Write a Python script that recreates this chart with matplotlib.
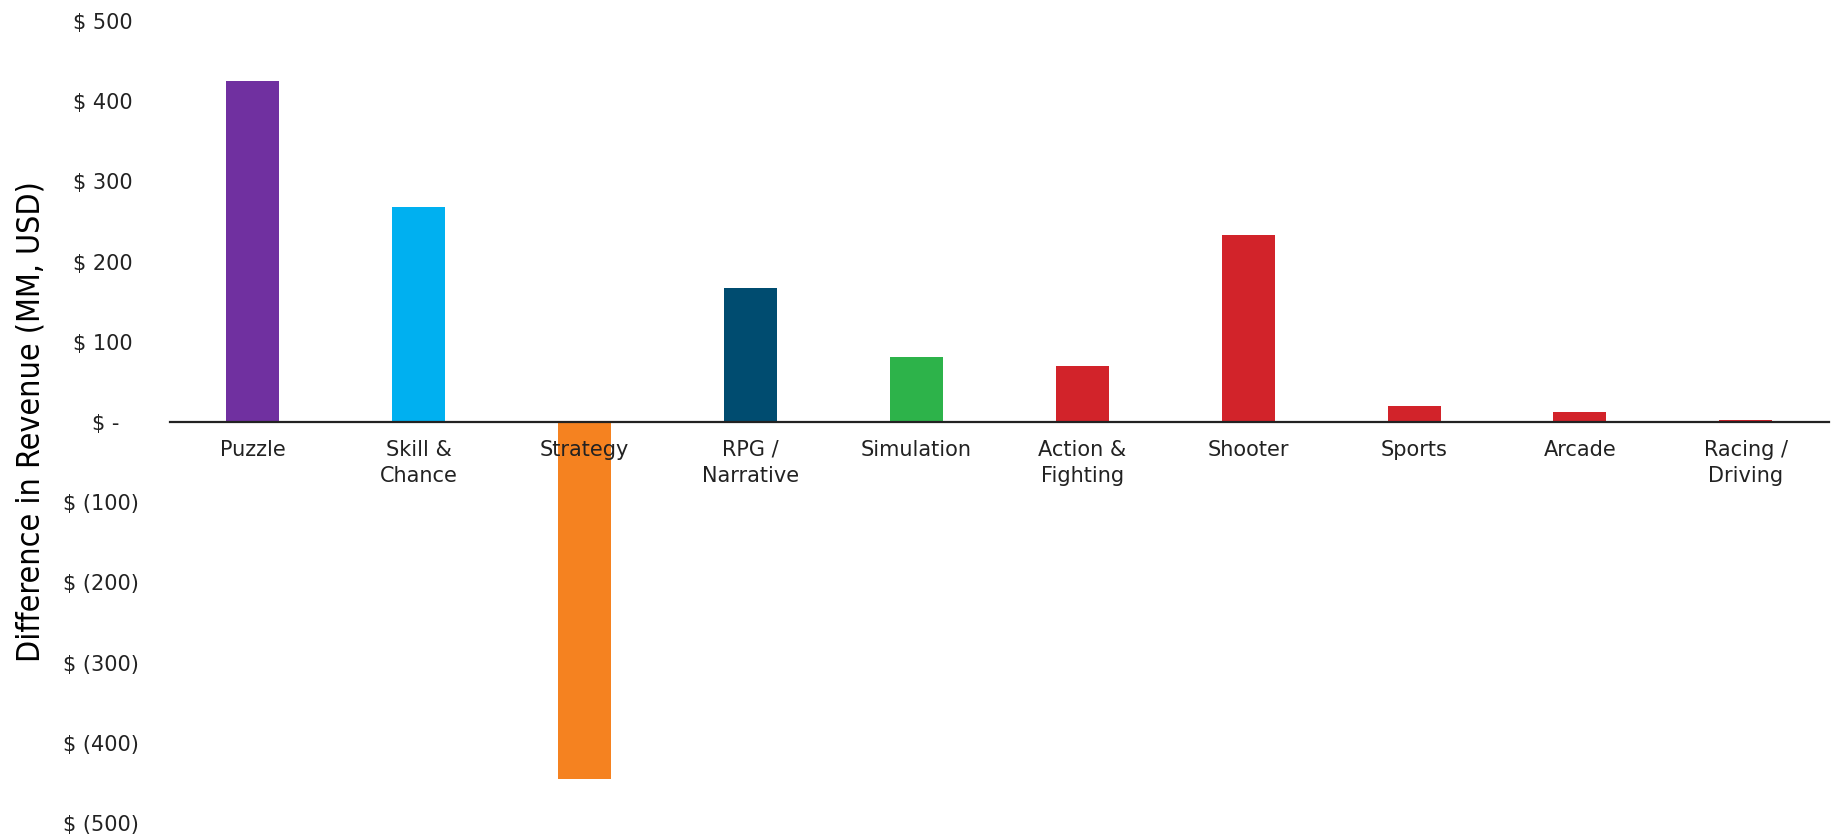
import matplotlib.pyplot as plt
import numpy as np

# datos
categorias = ["Puzzle", "Skill &\nChance", "Strategy", "RPG /\nNarrative", "Simulation",
              "Action &\nFighting", "Shooter", "Sports", "Arcade", "Racing /\nDriving"]
diferencia = [425, 268, -445, 167, 81, 70, 233, 20, 12, 3]
colores = ["#7030A0", "#00B0F0", "#F58220", "#004C70", "#2DB34A",
           "#D2232A", "#D2232A", "#D2232A", "#D2232A", "#D2232A"]
yticks = [500, 400, 300, 200, 100, 0, -100, -200, -300, -400, -500]


def formato(v):
    if v == 0:
        return "$ -   "
    if v < 0:
        return "$ (%d)" % abs(v)
    return "$ %d " % v


fig = plt.figure(figsize=(18.35, 8.35), dpi=100)
ax = fig.add_axes([0.0926, 0.0144, 0.904, 0.9606])
ax.set_axisbelow(False)

x = np.arange(len(categorias))
ax.bar(x, diferencia, width=0.32, color=colores, zorder=1)

# eje x en el cero
for s in ["left", "right", "top"]:
    ax.spines[s].set_visible(False)
ax.spines["bottom"].set_position(("data", 0))
ax.spines["bottom"].set_linewidth(1.6)
ax.spines["bottom"].set_color("#222222")

ax.set_xlim(-0.5, len(categorias) - 0.5)
ax.set_ylim(-500, 500)
ax.set_yticks(yticks)
ax.set_yticklabels([formato(v) for v in yticks], fontsize=15, color="#222222")
ax.tick_params(axis="y", length=0, pad=22)

ax.set_xticks(x)
ax.set_xticklabels(categorias, fontsize=15, color="#222222", linespacing=1.4)
ax.tick_params(axis="x", length=0, pad=13)

ax.set_ylabel("Difference in Revenue (MM, USD)", fontsize=23,
              family="DejaVu Sans", fontstretch="condensed", labelpad=12)

fig.savefig("out.png", dpi=100)
